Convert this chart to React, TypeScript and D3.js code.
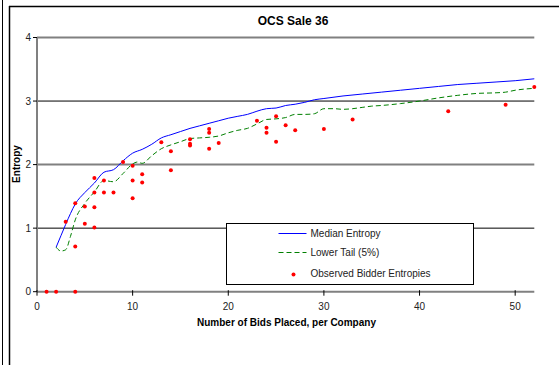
import React, { useRef, useEffect } from "react";
import * as d3 from "d3";

// Median entropy curve [bids, entropy]
const medianEntropy: [number, number][] = [
  [2, 0.7], [2.5, 0.88], [3, 1.06], [3.5, 1.23], [4, 1.38], [5, 1.56], [6, 1.71],
  [7, 1.88], [8, 1.92], [9, 2.06], [10, 2.18], [11, 2.24], [12, 2.32], [13, 2.42],
  [14, 2.47], [15, 2.52], [16, 2.57], [17, 2.61], [18, 2.65], [19, 2.69], [20, 2.73],
  [21, 2.76], [22, 2.79], [23, 2.84], [24, 2.88], [25, 2.89], [26, 2.93], [27, 2.95],
  [28, 2.98], [29, 3.02], [30, 3.04], [32, 3.08], [34, 3.11], [36, 3.14], [38, 3.17],
  [40, 3.2], [42, 3.23], [44, 3.26], [46, 3.28], [48, 3.3], [50, 3.32], [52, 3.35],
];

// Lower tail (5%) curve
const lowerTail: [number, number][] = [
  [2, 0.7], [2.5, 0.64], [3, 0.66], [3.5, 0.87], [4, 1.13], [5, 1.39], [6, 1.57],
  [7, 1.75], [8, 1.73], [9, 1.86], [10, 2.01], [10.5, 2.04], [11, 2.02], [12, 2.14],
  [13, 2.25], [14, 2.31], [15, 2.36], [16, 2.41], [17, 2.42], [18, 2.43], [19, 2.45],
  [20, 2.5], [21, 2.54], [22, 2.57], [23, 2.64], [24, 2.71], [25, 2.72], [26, 2.74],
  [27, 2.79], [28, 2.79], [29, 2.8], [30, 2.88], [31, 2.88], [32, 2.87], [33, 2.88],
  [34, 2.9], [35, 2.92], [36, 2.93], [38, 2.96], [40, 3.0], [42, 3.05], [44, 3.09],
  [46, 3.12], [48, 3.13], [49, 3.14], [50, 3.17], [52, 3.2],
];

// Observed bidder entropies
const observed: [number, number][] = [
  [1, 0], [2, 0], [4, 0], [3, 1.1], [4, 1.39], [4, 0.71], [5, 1.34], [5, 1.07],
  [6, 1.79], [6, 1.56], [6, 1.33], [6, 1.01], [7, 1.75], [7, 1.56], [8, 1.56],
  [9, 2.04], [10, 1.98], [10, 1.75], [10, 1.47], [11, 1.85], [11, 1.72], [13, 2.35],
  [14, 2.21], [14, 1.91], [16, 2.4], [16, 2.33], [16, 2.3], [18, 2.56], [18, 2.5],
  [18, 2.25], [19, 2.34], [23, 2.69], [24, 2.58], [24, 2.5], [25, 2.76], [25, 2.36],
  [26, 2.62], [27, 2.54], [30, 2.56], [33, 2.71], [43, 2.84], [49, 2.94], [52, 3.22],
];

const xTicks = [0, 10, 20, 30, 40, 50];
const yTicks = [0, 1, 2, 3, 4];

const legendItems = ["Median Entropy", "Lower Tail (5%)", "Observed Bidder Entropies"];

const FONT = "'Liberation Sans', Arial, sans-serif";

export default function App() {
  const svgRef = useRef<SVGSVGElement>(null);

  useEffect(() => {
    if (!svgRef.current) return;
    const svg = d3.select(svgRef.current);
    svg.selectAll("*").remove();

    const width = 559;
    const height = 365;

    svg.append("rect").attr("width", width).attr("height", height).attr("fill", "#fff");

    // outer frames (cropped Excel chart)
    svg.append("line").attr("x1", 2.5).attr("x2", 2.5).attr("y1", 0).attr("y2", height)
      .attr("stroke", "#000").attr("stroke-width", 1);
    svg.append("line").attr("x1", 9.5).attr("x2", 9.5).attr("y1", 6).attr("y2", height)
      .attr("stroke", "#000").attr("stroke-width", 1.5);
    svg.append("line").attr("x1", 9).attr("x2", width).attr("y1", 6.5).attr("y2", 6.5)
      .attr("stroke", "#000").attr("stroke-width", 1.5);

    const xScale = d3.scaleLinear().domain([0, 52]).range([37, 534.3]);
    const yScale = d3.scaleLinear().domain([0, 4]).range([291.7, 37.5]);

    const g = svg.append("g");

    // gridlines
    g.selectAll(".grid")
      .data(yTicks.filter(d => d > 0))
      .enter()
      .append("line")
      .attr("x1", xScale(0))
      .attr("x2", xScale(52))
      .attr("y1", d => yScale(d))
      .attr("y2", d => yScale(d))
      .attr("stroke", d => (d % 2 === 0 ? "#808080" : "#000"))
      .attr("stroke-width", d => (d % 2 === 0 ? 2 : 1));

    // axes
    g.append("line").attr("x1", xScale(0)).attr("x2", xScale(0))
      .attr("y1", yScale(4)).attr("y2", yScale(0))
      .attr("stroke", "#808080").attr("stroke-width", 2);
    g.append("line").attr("x1", xScale(0)).attr("x2", xScale(52))
      .attr("y1", yScale(0)).attr("y2", yScale(0))
      .attr("stroke", "#808080").attr("stroke-width", 2);

    g.selectAll(".ytick")
      .data(yTicks)
      .enter()
      .append("line")
      .attr("x1", xScale(0) - 4)
      .attr("x2", xScale(0))
      .attr("y1", d => yScale(d))
      .attr("y2", d => yScale(d))
      .attr("stroke", "#000");

    g.selectAll(".xtick")
      .data(xTicks)
      .enter()
      .append("line")
      .attr("x1", d => xScale(d))
      .attr("x2", d => xScale(d))
      .attr("y1", yScale(0) - 1.5)
      .attr("y2", yScale(0) + 4)
      .attr("stroke", "#000");

    g.selectAll(".ylabel")
      .data(yTicks)
      .enter()
      .append("text")
      .attr("x", xScale(0) - 6)
      .attr("y", d => yScale(d) + 3.5)
      .attr("text-anchor", "end")
      .style("font-family", FONT)
      .style("font-size", "10px")
      .style("fill", "#222")
      .text(d => d);

    g.selectAll(".xlabel")
      .data(xTicks)
      .enter()
      .append("text")
      .attr("x", d => xScale(d))
      .attr("y", yScale(0) + 18)
      .attr("text-anchor", "middle")
      .style("font-family", FONT)
      .style("font-size", "10px")
      .style("fill", "#222")
      .text(d => d);

    // axis titles
    svg.append("text")
      .attr("x", 286.5)
      .attr("y", 326)
      .attr("text-anchor", "middle")
      .style("font-family", FONT)
      .style("font-size", "10px")
      .style("font-weight", "bold")
      .text("Number of Bids Placed, per Company");

    svg.append("text")
      .attr("transform", "translate(20,164) rotate(-90)")
      .attr("text-anchor", "middle")
      .style("font-family", FONT)
      .style("font-size", "10px")
      .style("font-weight", "bold")
      .text("Entropy");

    svg.append("text")
      .attr("x", 293)
      .attr("y", 25)
      .attr("text-anchor", "middle")
      .style("font-family", FONT)
      .style("font-size", "12px")
      .style("font-weight", "bold")
      .text("OCS Sale 36");

    const line = d3.line<[number, number]>()
      .x(d => xScale(d[0]))
      .y(d => yScale(d[1]))
      .curve(d3.curveMonotoneX);

    g.append("path")
      .datum(lowerTail)
      .attr("fill", "none")
      .attr("stroke", "#008000")
      .attr("stroke-width", 1)
      .attr("stroke-dasharray", "5,3")
      .attr("d", line);

    g.append("path")
      .datum(medianEntropy)
      .attr("fill", "none")
      .attr("stroke", "#0000ff")
      .attr("stroke-width", 1)
      .attr("d", line);

    g.selectAll(".dot")
      .data(observed)
      .enter()
      .append("circle")
      .attr("cx", d => xScale(d[0]))
      .attr("cy", d => yScale(d[1]))
      .attr("r", 2)
      .attr("fill", "#ff0000");

    // legend
    const lg = svg.append("g").attr("transform", "translate(226.5,223.5)");
    lg.append("rect")
      .attr("width", 247)
      .attr("height", 61)
      .attr("fill", "#fff")
      .attr("stroke", "#000")
      .attr("stroke-width", 1);

    const rowY = [10, 29, 50];
    lg.append("line").attr("x1", 52).attr("x2", 80).attr("y1", rowY[0]).attr("y2", rowY[0])
      .attr("stroke", "#0000ff");
    lg.append("line").attr("x1", 52).attr("x2", 80).attr("y1", rowY[1]).attr("y2", rowY[1])
      .attr("stroke", "#008000").attr("stroke-dasharray", "5,3");
    lg.append("circle").attr("cx", 67).attr("cy", rowY[2] + 1).attr("r", 2).attr("fill", "#ff0000");

    lg.selectAll(".ltext")
      .data(legendItems)
      .enter()
      .append("text")
      .attr("x", 84)
      .attr("y", (_, i) => rowY[i] + 3.5)
      .style("font-family", FONT)
      .style("font-size", "10px")
      .style("fill", "#222")
      .text(d => d);
  }, []);

  return (
    <svg
      ref={svgRef}
      width={559}
      height={365}
      style={{ position: "absolute", left: 0, top: 0 }}
    />
  );
}
